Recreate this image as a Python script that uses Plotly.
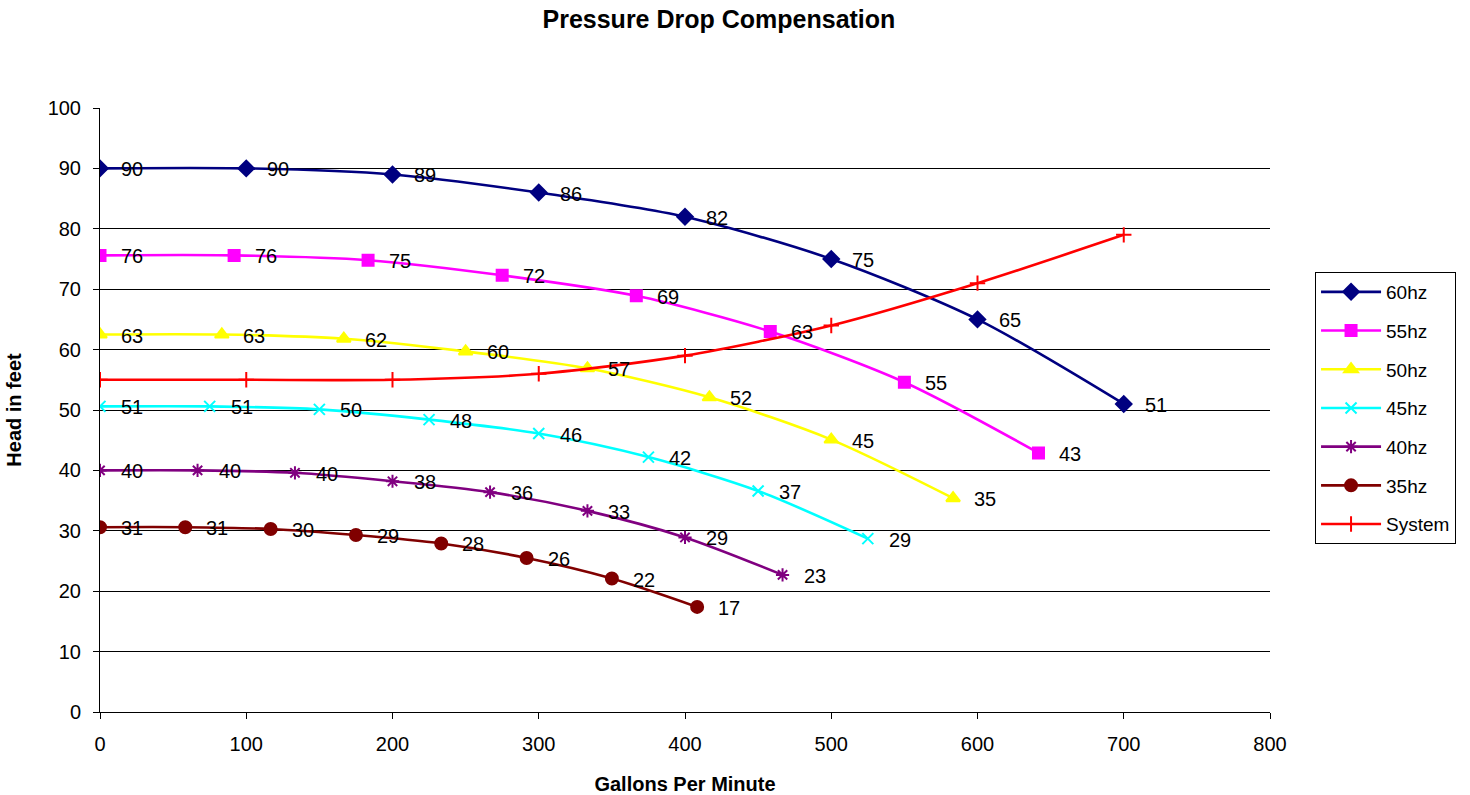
import math
import plotly.graph_objects as go

# Flow (gallons per minute) and head (feet)
x60 = [0, 100, 200, 300, 400, 500, 600, 700]
y60 = [90, 90, 89, 86, 82, 75, 65, 51]
x55 = [0, 91.7, 183.3, 275, 366.7, 458.3, 550, 641.7]
y55 = [75.6, 75.6, 74.8, 72.3, 68.9, 63.0, 54.6, 42.9]
x50 = [0, 83.3, 166.7, 250, 333.3, 416.7, 500, 583.3]
y50 = [62.5, 62.5, 61.8, 59.7, 56.9, 52.1, 45.1, 35.4]
x45 = [0, 75, 150, 225, 300, 375, 450, 525]
y45 = [50.6, 50.6, 50.1, 48.4, 46.1, 42.2, 36.6, 28.7]
x40 = [0, 66.7, 133.3, 200, 266.7, 333.3, 400, 466.7]
y40 = [40.0, 40.0, 39.6, 38.2, 36.4, 33.3, 28.9, 22.7]
x35 = [0, 58.3, 116.7, 175, 233.3, 291.7, 350, 408.3]
y35 = [30.6, 30.6, 30.3, 29.3, 27.9, 25.5, 22.1, 17.4]
xsys = [0, 100, 200, 300, 400, 500, 600, 700]
ysys = [55, 55, 55, 56, 59, 64, 71, 79]

series = [
    ("60hz", x60, y60, "#000080", "diamond", 12, True),
    ("55hz", x55, y55, "#FF00FF", "square", 11, True),
    ("50hz", x50, y50, "#FFFF00", "triangle-up", 12, True),
    ("45hz", x45, y45, "#00FFFF", "x-thin-open", 11, True),
    ("40hz", x40, y40, "#800080", "asterisk-open", 11, True),
    ("35hz", x35, y35, "#800000", "circle", 12, True),
    ("System", xsys, ysys, "#FF0000", "cross-thin-open", 11, False),
]

FONT = "Liberation Sans, Arial, sans-serif"
fig = go.Figure()
annotations = []
for name, xs, ys, color, sym, size, labelled in series:
    fig.add_trace(go.Scatter(
        x=xs, y=ys, name=name, mode="lines+markers",
        line=dict(color=color, width=2.6, shape="spline", smoothing=0.8),
        marker=dict(symbol=sym, size=size, color=color,
                    line=dict(color=color, width=2)),
        legendgroup=name,
    ))
    if labelled:
        for xv, yv in zip(xs, ys):
            annotations.append(dict(
                x=xv, y=yv, xref="x", yref="y", text=str(int(math.floor(yv + 0.5))),
                showarrow=False, xanchor="left", yanchor="middle", xshift=19, yshift=-1,
                font=dict(family=FONT, size=20, color="black"),
            ))

fig.update_layout(
    width=1470, height=795,
    margin=dict(l=100, r=200, t=108, b=83, autoexpand=False),
    paper_bgcolor="white", plot_bgcolor="white",
    title=dict(text="<b>Pressure Drop Compensation</b>", x=0.529, xanchor="center",
               xref="paper", y=0.976, yanchor="middle",
               font=dict(family=FONT, size=25, color="black")),
    annotations=annotations,
    legend=dict(x=1.0385, y=0.7285, xanchor="left", yanchor="top",
                bordercolor="black", borderwidth=1, bgcolor="white",
                font=dict(family=FONT, size=19, color="black"),
                tracegroupgap=11, itemwidth=60),
    showlegend=True,
)
fig.update_xaxes(
    range=[0, 800], tickvals=[0, 100, 200, 300, 400, 500, 600, 700, 800],
    showgrid=False, zeroline=False, showline=True, linecolor="black", linewidth=1,
    ticks="outside", ticklen=6, tickcolor="black", ticklabelstandoff=8,
    automargin=False,
    tickfont=dict(family=FONT, size=20, color="black"),
    title=dict(text="<b>Gallons Per Minute</b>", standoff=28,
               font=dict(family=FONT, size=20, color="black")),
)
fig.update_yaxes(
    range=[0, 100], tickvals=list(range(0, 101, 10)),
    showgrid=True, gridcolor="black", gridwidth=1, zeroline=False,
    showline=True, linecolor="black", linewidth=1,
    ticks="outside", ticklen=6, tickcolor="black", ticklabelstandoff=8,
    automargin=False,
    tickfont=dict(family=FONT, size=20, color="black"),
    title=dict(text="<b>Head in feet</b>", standoff=20,
               font=dict(family=FONT, size=20, color="black")),
)

fig.write_html("out.html")
